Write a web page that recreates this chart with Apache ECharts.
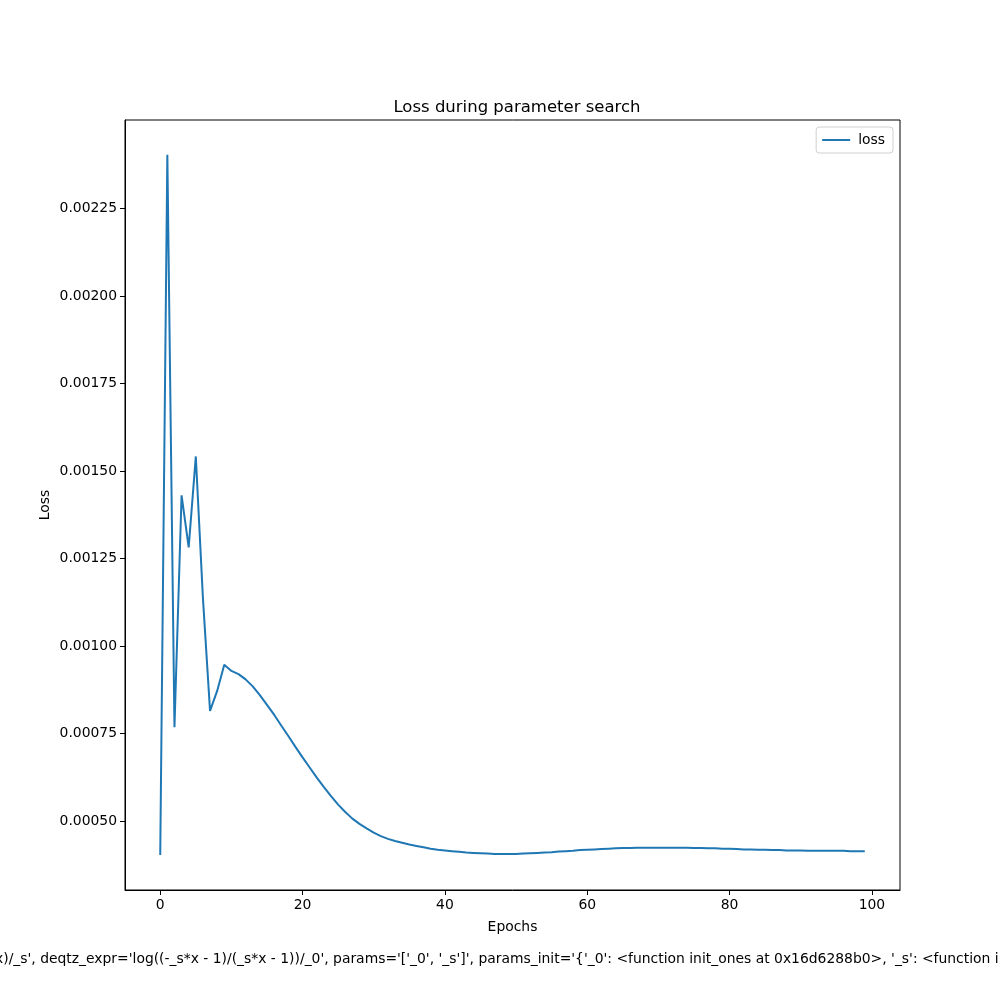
<!DOCTYPE html>
<html><head><meta charset="utf-8">
<script src="https://cdn.jsdelivr.net/npm/echarts@6/dist/echarts.min.js"></script>
<style>html,body{margin:0;padding:0;background:#fff}#c{width:1000px;height:1000px}</style>
</head><body><div id="c"></div>
<script>
const epochs = Array.from({length: 100}, (_, i) => i);
const loss = [
0.000403,0.002404,0.000768,0.001431,0.001282,0.001542,0.001137,0.000815,0.000872,0.000947,
0.000929,0.000920,0.000905,0.000885,0.000860,0.000832,0.000804,0.000773,0.000743,0.000712,
0.000682,0.000653,0.000624,0.000597,0.000571,0.000547,0.000526,0.000507,0.000492,0.000479,
0.000467,0.000457,0.000449,0.000443,0.000438,0.000433,0.000429,0.000425,0.000421,0.000418,
0.000416,0.000414,0.000412,0.000410,0.000409,0.000408,0.000407,0.000406,0.000406,0.000406,
0.000406,0.000407,0.000408,0.000409,0.000410,0.000411,0.000413,0.000414,0.000415,0.000417,
0.000418,0.000419,0.000420,0.000421,0.000422,0.000423,0.000423,0.000424,0.000424,0.000424,
0.000424,0.000424,0.000424,0.000424,0.000424,0.000423,0.000423,0.000422,0.000422,0.000421,
0.000421,0.000420,0.000419,0.000419,0.000418,0.000418,0.000417,0.000417,0.000416,0.000416,
0.000416,0.000415,0.000415,0.000415,0.000415,0.000415,0.000415,0.000414,0.000414,0.000414
];
const xTicks = [0, 20, 40, 60, 80, 100];
const yTicks = [0.0005, 0.00075, 0.001, 0.00125, 0.0015, 0.00175, 0.002, 0.00225];
const titleText = 'Loss during parameter search';
const footerText = "x)/_s', deqtz_expr='log((-_s*x - 1)/(_s*x - 1))/_0', params='['_0', '_s']', params_init='{'_0': <function init_ones at 0x16d6288b0>, '_s': <function init_ones at 0x16d6288b0>}')";

const FONT = 'DejaVu Sans';
const chart = echarts.init(document.getElementById('c'), null, {renderer: 'canvas'});
const yMin = 0.000303, yMax = 0.0025035;
chart.setOption({
  animation: false,
  backgroundColor: '#fff',
  textStyle: {fontFamily: FONT},
  title: {
    text: titleText, left: 512, top: 94, textAlign: 'center',
    textStyle: {fontFamily: FONT, fontSize: 16.5, fontWeight: 'normal', color: '#000'}
  },
  legend: {
    right: 107, top: 127, orient: 'vertical',
    data: [{name: 'loss', icon: 'rect'}],
    itemWidth: 28, itemHeight: 2, itemGap: 4,
    padding: [6, 8, 6, 6],
    borderColor: '#d0d0d0', borderWidth: 1, borderRadius: 3,
    textStyle: {fontFamily: FONT, fontSize: 13.9, color: '#000', padding: [0, 0, 0, 3]}
  },
  grid: {left: 125, right: 100, top: 120, bottom: 110, show: true, borderColor: '#000', borderWidth: 1, containLabel: false},
  xAxis: {
    type: 'value', min: -4.95, max: 103.95,
    name: 'Epochs', nameLocation: 'middle', nameGap: 30, nameMoveOverlap: false,
    nameTextStyle: {fontFamily: FONT, fontSize: 13.9, color: '#000'},
    axisLine: {show: true, onZero: false, lineStyle: {color: '#000', width: 1}},
    axisTick: {show: true, inside: false, length: 5, customValues: xTicks, lineStyle: {color: '#000'}},
    axisLabel: {show: true, customValues: xTicks, fontFamily: FONT, fontSize: 13.9, color: '#000', margin: 8,
      formatter: v => String(Math.round(v))},
    splitLine: {show: false}
  },
  yAxis: {
    type: 'value', min: yMin, max: yMax,
    name: 'Loss', nameLocation: 'middle', nameGap: 73, nameRotate: 90, nameMoveOverlap: false,
    nameTextStyle: {fontFamily: FONT, fontSize: 13.9, color: '#000'},
    axisLine: {show: true, onZero: false, lineStyle: {color: '#000', width: 1}},
    axisTick: {show: true, inside: false, length: 5, customValues: yTicks, lineStyle: {color: '#000'}},
    axisLabel: {show: true, customValues: yTicks, fontFamily: FONT, fontSize: 13.9, color: '#000', margin: 8,
      formatter: v => v.toFixed(5)},
    splitLine: {show: false}
  },
  graphic: [{
    type: 'text', left: -5, top: 952,
    style: {text: footerText, fontFamily: FONT, fontSize: 13.9, fill: '#000'}
  }],
  series: [{
    name: 'loss', type: 'line', symbol: 'none',
    data: epochs.map((e, i) => [e, loss[i]]),
    lineStyle: {color: '#1f77b4', width: 2},
    itemStyle: {color: '#1f77b4'}
  }]
});
</script></body></html>
